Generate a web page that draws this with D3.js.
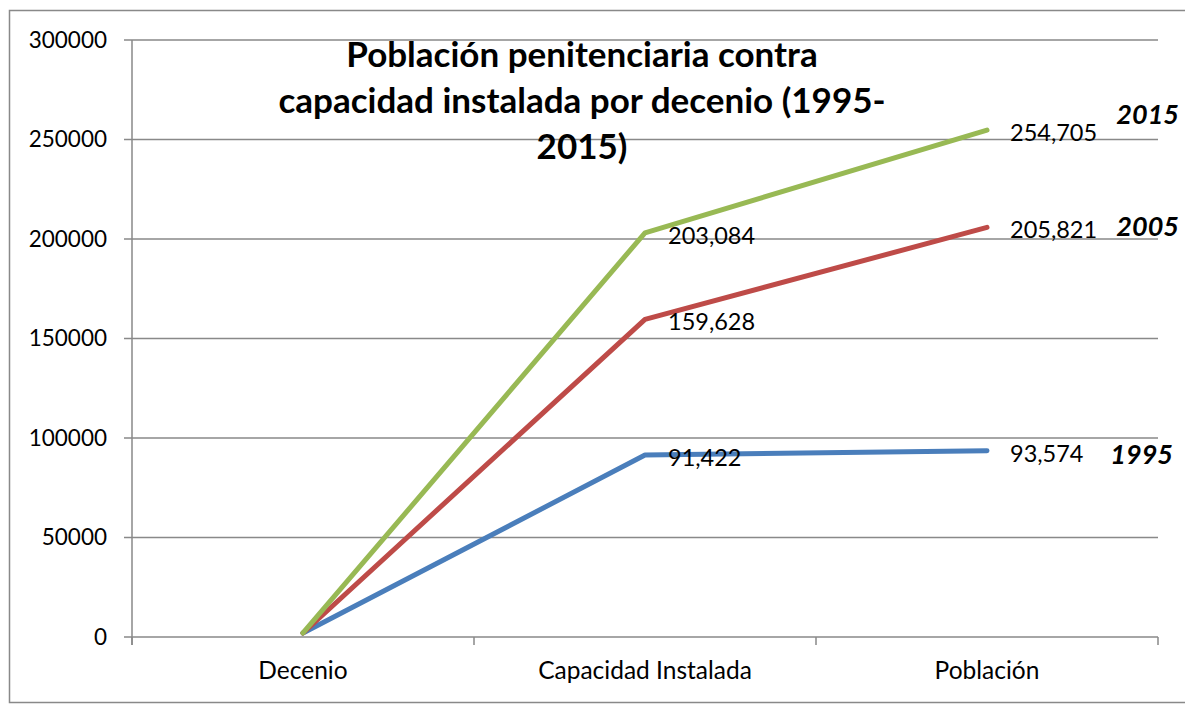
<!DOCTYPE html>
<html>
<head>
<meta charset="utf-8">
<script src="https://cdn.jsdelivr.net/npm/d3@7"></script>
<style>
  body { margin: 0; background: #fff; }
  svg { display: block; font-family: Lato, "Open Sans", sans-serif; }
</style>
</head>
<body>
<svg width="1185" height="704"></svg>
<script>
// chart data
var categories = ['Decenio', 'Capacidad Instalada', 'Población'];
var seriesNames = ['1995', '2005', '2015'];
var values1995 = [1995, 91422, 93574];
var values2005 = [2005, 159628, 205821];
var values2015 = [2015, 203084, 254705];
var yTicks = [0, 50000, 100000, 150000, 200000, 250000, 300000];
var titleLines = ['Población penitenciaria contra', 'capacidad instalada por decenio (1995-', '2015)'];

var colors = ['#4a7ebb', '#be4b48', '#98b954'];
var series = [values1995, values2005, values2015];

var svg = d3.select('svg');

// outer frame
svg.append('rect')
    .attr('x', 9.5).attr('y', 10.5)
    .attr('width', 1185).attr('height', 692)
    .attr('fill', 'none')
    .attr('stroke', '#898989')
    .attr('stroke-width', 1.5);

var padding = { l: 132, r: 1158, t: 40, b: 637 };

var xScale = d3.scaleBand()
    .domain(categories)
    .range([padding.l, padding.r]);

var yScale = d3.scaleLinear()
    .domain([0, 300000])
    .range([padding.b, padding.t]);

// gridlines
svg.append('g')
    .selectAll('line')
    .data(yTicks)
    .enter().append('line')
    .attr('x1', padding.l - 8).attr('x2', padding.r)
    .attr('y1', d => yScale(d)).attr('y2', d => yScale(d))
    .attr('stroke', '#898989')
    .attr('stroke-width', 1.5);

// y axis line
svg.append('line')
    .attr('x1', padding.l).attr('x2', padding.l)
    .attr('y1', padding.t).attr('y2', padding.b + 8)
    .attr('stroke', '#898989').attr('stroke-width', 1.5);

// y tick labels
svg.append('g')
    .selectAll('text')
    .data(yTicks)
    .enter().append('text')
    .attr('x', padding.l - 25)
    .attr('y', d => yScale(d))
    .attr('dy', '0.35em')
    .attr('text-anchor', 'end')
    .style('font-size', '22.5px')
    .text(d => d);

// x category tick marks at band edges
var edges = categories.map(c => xScale(c)).concat([padding.r]);
svg.append('g')
    .selectAll('line')
    .data(edges)
    .enter().append('line')
    .attr('x1', d => d).attr('x2', d => d)
    .attr('y1', padding.b).attr('y2', padding.b + 8)
    .attr('stroke', '#898989').attr('stroke-width', 1.5);

// x category labels
svg.append('g')
    .selectAll('text')
    .data(categories)
    .enter().append('text')
    .attr('x', d => xScale(d) + xScale.bandwidth() / 2)
    .attr('y', 679)
    .attr('text-anchor', 'middle')
    .style('font-size', '24.5px')
    .text(d => d);

// lines
var line = d3.line()
    .x((d, i) => xScale(categories[i]) + xScale.bandwidth() / 2)
    .y(d => yScale(d));

svg.append('g')
    .selectAll('path')
    .data(series)
    .enter().append('path')
    .attr('d', line)
    .attr('fill', 'none')
    .attr('stroke', (d, i) => colors[i])
    .attr('stroke-width', 5)
    .attr('stroke-linecap', 'round')
    .attr('stroke-linejoin', 'round');

// data labels for the last two points
var fmt = d3.format(',');
series.forEach(function(vals) {
    svg.append('g')
        .selectAll('text')
        .data(vals.slice(1))
        .enter().append('text')
        .attr('x', (d, i) => xScale(categories[i + 1]) + xScale.bandwidth() / 2 + 23)
        .attr('y', d => yScale(d) + 11)
        .style('font-size', '23.5px')
        .text(d => fmt(d));
});

// series name labels at the right
var nameOffsets = [4, 0, -15];
svg.append('g')
    .selectAll('text')
    .data(seriesNames)
    .enter().append('text')
    .attr('x', (d, i) => i === 0 ? 1173 : 1179)
    .attr('y', (d, i) => yScale(series[i][2]) + nameOffsets[i] + 9)
    .attr('text-anchor', 'end')
    .style('font-size', '27px')
    .style('font-weight', 'bold')
    .style('font-style', 'italic')
    .text(d => d);

// title
svg.append('text')
    .attr('text-anchor', 'middle')
    .style('font-size', '35px')
    .style('font-weight', 'bold')
    .selectAll('tspan')
    .data(titleLines)
    .enter().append('tspan')
    .attr('x', 582)
    .attr('y', (d, i) => 67 + i * 46)
    .text(d => d);
</script>
</body>
</html>
